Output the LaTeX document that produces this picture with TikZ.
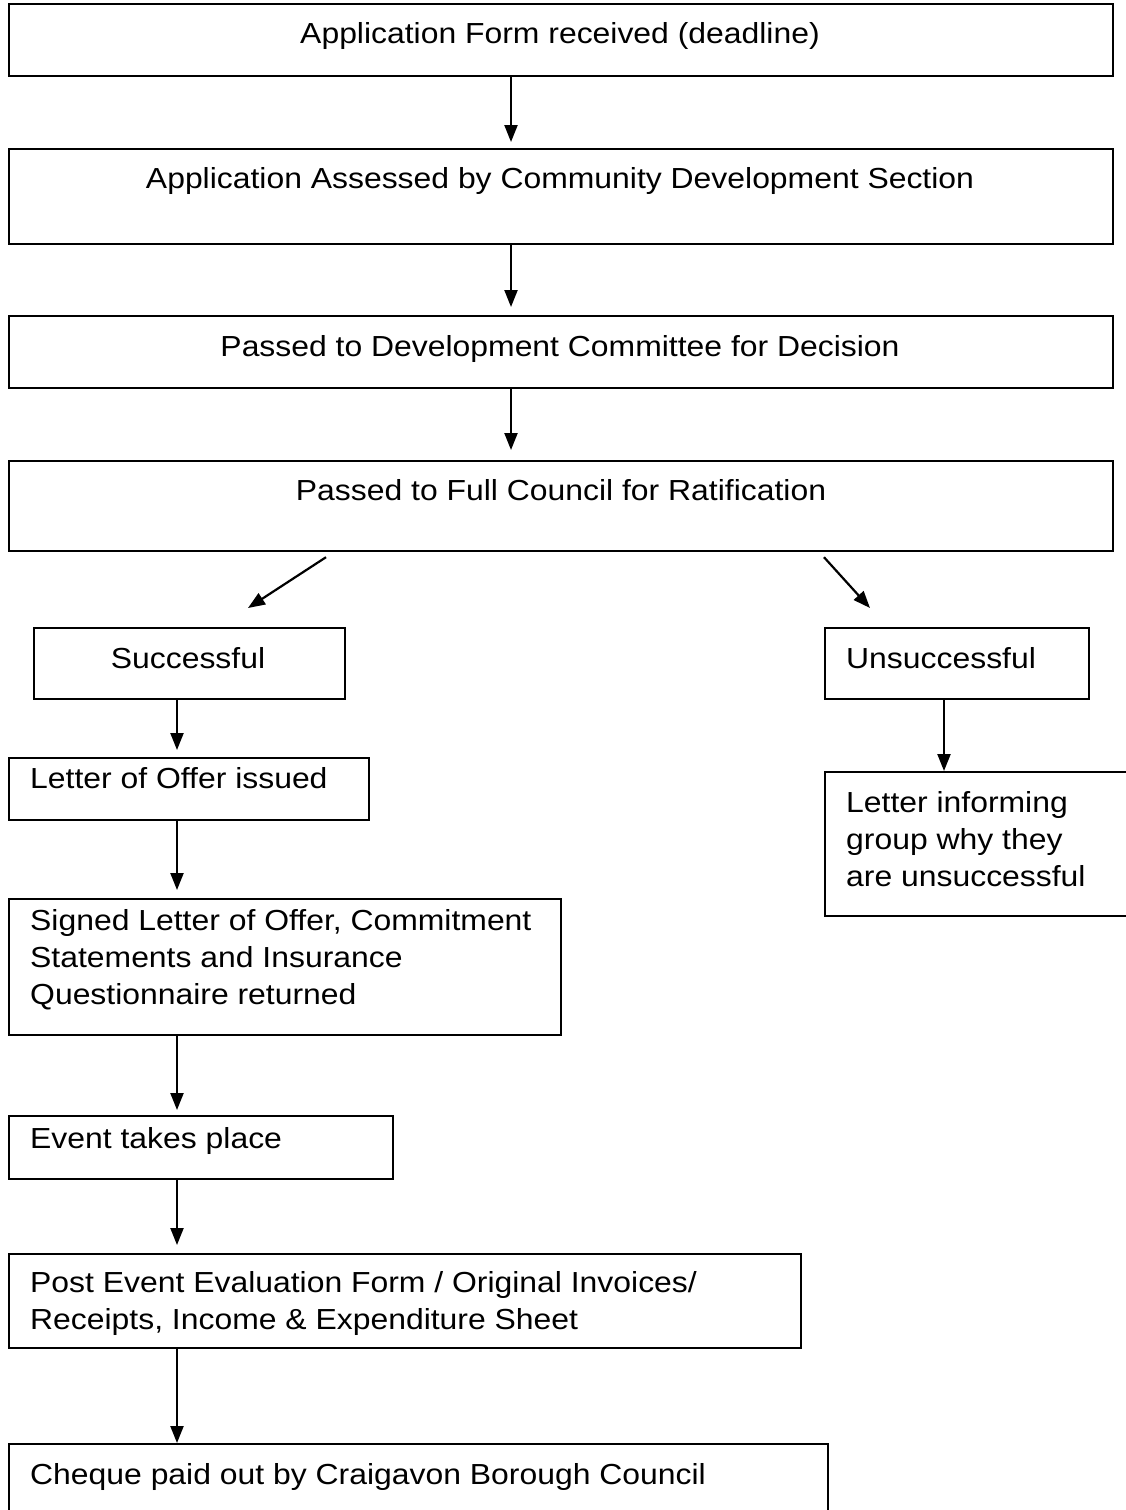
\documentclass[tikz,border=0pt]{standalone}
\usepackage{fontspec}
\setmainfont[FakeStretch=1.1]{Liberation Sans}
\usetikzlibrary{arrows.meta}
\begin{document}
\begin{tikzpicture}[x=1pt,y=-1pt,
  box/.style={draw,line width=2.2pt,rectangle,inner sep=0pt,anchor=north west},
  txt/.style={inner sep=0pt,font=\fontsize{29}{37}\selectfont},
  mtxt/.style={txt,align=left,anchor=base west},
  arr/.style={line width=2.2pt,-{Triangle[length=17pt,width=13pt]}}]
\useasboundingbox (0,0) rectangle (1126,1510);
\fill[white] (0,0) rectangle (1126,1510);
% boxes
\node[box,minimum width=1104pt,minimum height=72pt] (b1) at (8,3) {};
\node[box,minimum width=1104pt,minimum height=95pt] (b2) at (8,148) {};
\node[box,minimum width=1104pt,minimum height=72pt] (b3) at (8,315) {};
\node[box,minimum width=1104pt,minimum height=90pt] (b4) at (8,460) {};
\node[box,minimum width=311pt,minimum height=71pt] (succ) at (33,627) {};
\node[box,minimum width=264pt,minimum height=71pt] (unsucc) at (824,627) {};
\node[box,minimum width=360pt,minimum height=62pt] (offer) at (8,757) {};
\node[box,minimum width=340pt,minimum height=144pt] (inform) at (824,771) {};
\node[box,minimum width=552pt,minimum height=136pt] (signed) at (8,898) {};
\node[box,minimum width=384pt,minimum height=63pt] (event) at (8,1115) {};
\node[box,minimum width=792pt,minimum height=94pt] (post) at (8,1253) {};
\node[box,minimum width=819pt,minimum height=100pt] (cheque) at (8,1443) {};
% texts (multi-line nodes: base is the last line)
\node[txt,anchor=base] (t1) at (560,43) {Application Form received (deadline)};
\node[txt,anchor=base] (t2) at (560,188) {Application Assessed by Community Development Section};
\node[txt,anchor=base] (t3) at (560,356) {Passed to Development Committee for Decision};
\node[txt,anchor=base] (t4) at (561,500) {Passed to Full Council for Ratification};
\node[txt,anchor=base] (tsucc) at (188,668) {Successful};
\node[mtxt] (tunsucc) at (846,668) {Unsuccessful};
\node[mtxt] (toffer) at (30,788) {Letter of Offer issued};
\node[mtxt] (tinform) at (846,886) {Letter informing\\group why they\\are unsuccessful};
\node[mtxt] (tsigned) at (30,1004) {Signed Letter of Offer, Commitment\\Statements and Insurance\\Questionnaire returned};
\node[mtxt] (tevent) at (30,1148) {Event takes place};
\node[mtxt] (tpost) at (30,1329) {Post Event Evaluation Form / Original Invoices/\\Receipts, Income \& Expenditure Sheet};
\node[mtxt] (tcheque) at (30,1484) {Cheque paid out by Craigavon Borough Council};
% connectors
\draw[arr] ([shift={(503,0)}]b1.south west) -- ([shift={(503,-6)}]b2.north west);
\draw[arr] ([shift={(503,0)}]b2.south west) -- ([shift={(503,-8)}]b3.north west);
\draw[arr] ([shift={(503,0)}]b3.south west) -- ([shift={(503,-10)}]b4.north west);
\draw[arr] ([shift={(318,5)}]b4.south west) -- ([shift={(215,-19)}]succ.north west);
\draw[arr] ([shift={(816,5)}]b4.south west) -- ([shift={(46,-19)}]unsucc.north west);
\draw[arr] ([shift={(144,0)}]succ.south west) -- ([shift={(169,-7)}]offer.north west);
\draw[arr] ([shift={(120,0)}]unsucc.south west) -- ([shift={(120,0)}]inform.north west);
\draw[arr] ([shift={(169,0)}]offer.south west) -- ([shift={(169,-8)}]signed.north west);
\draw[arr] ([shift={(169,0)}]signed.south west) -- ([shift={(169,-5)}]event.north west);
\draw[arr] ([shift={(169,0)}]event.south west) -- ([shift={(169,-8)}]post.north west);
\draw[arr] ([shift={(169,0)}]post.south west) -- ([shift={(169,0)}]cheque.north west);
\end{tikzpicture}
\end{document}
